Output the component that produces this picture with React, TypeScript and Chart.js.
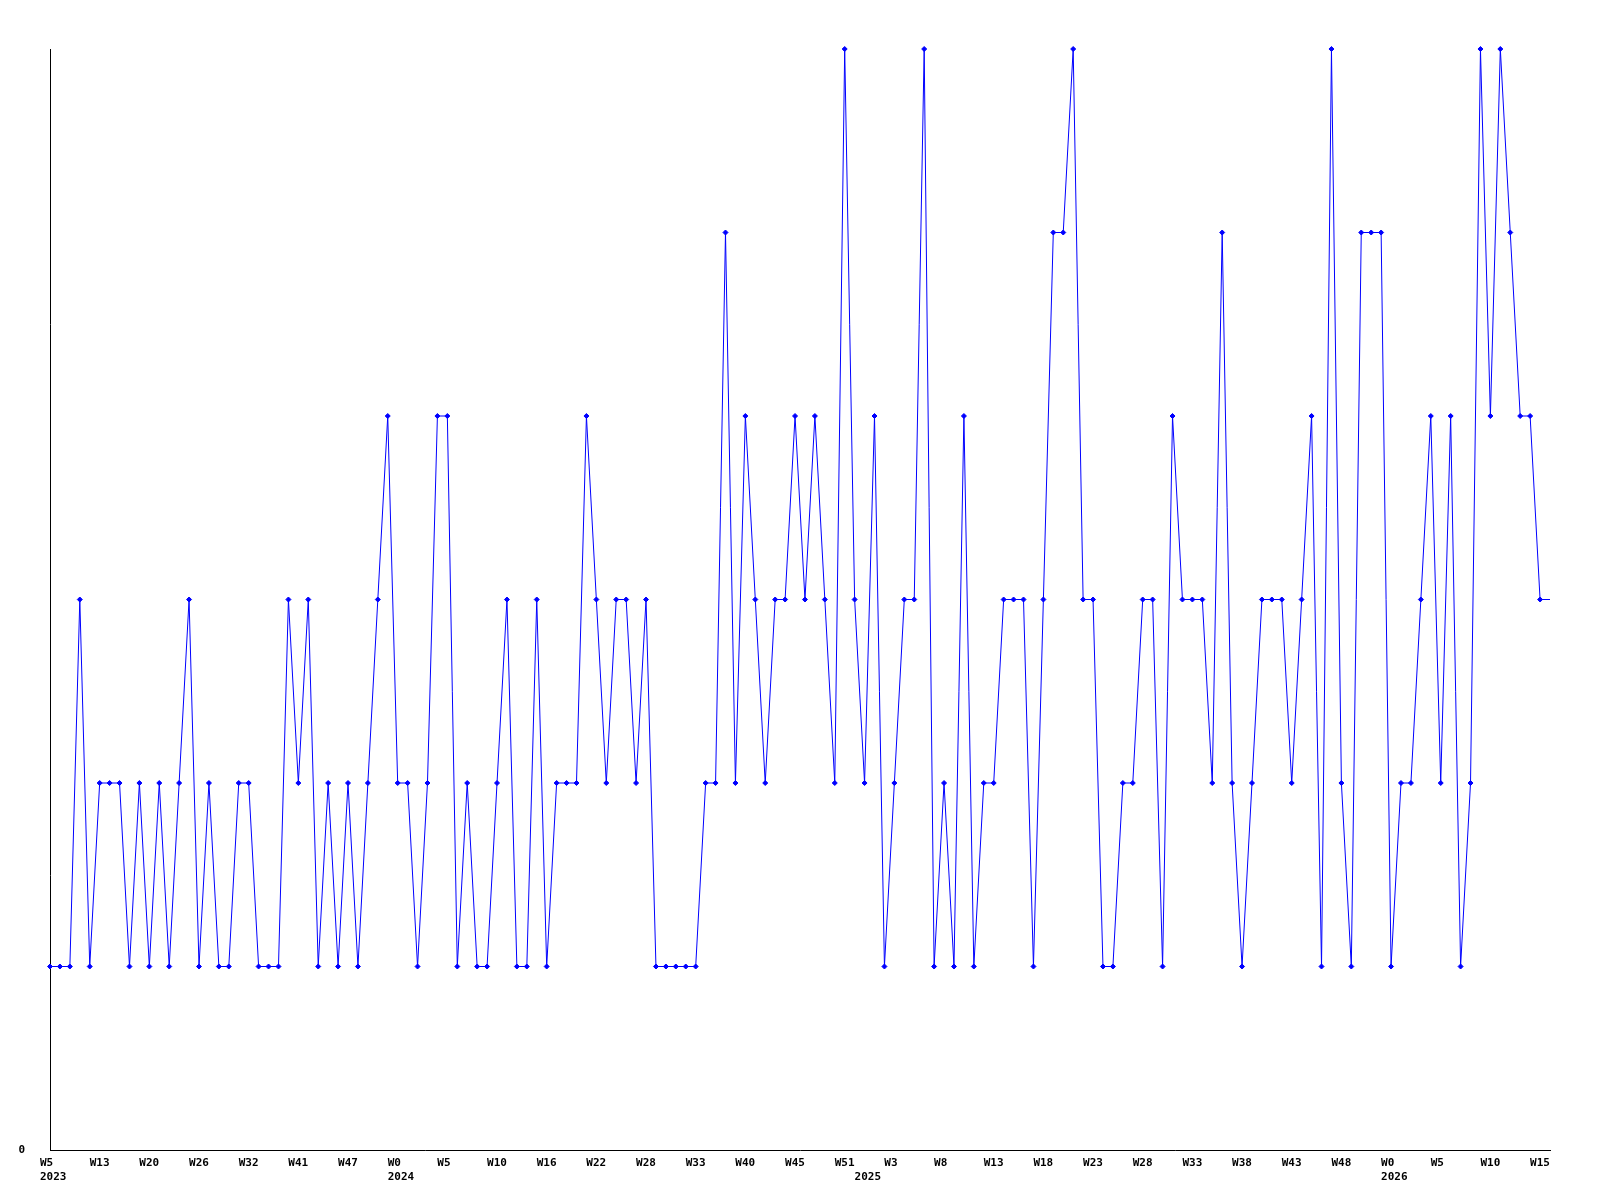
import { useEffect, useRef } from 'react';
import { Chart, registerables } from 'chart.js';

Chart.register(...registerables);

// Series values, one per sampled week (152 points)
const values = [
  1, 1, 1, 3, 1, 2, 2, 2, 1, 2, 1, 2, 1, 2, 3, 1, 2, 1, 1, 2, 2, 1, 1, 1, 3,
  2, 3, 1, 2, 1, 2, 1, 2, 3, 4, 2, 2, 1, 2, 4, 4, 1, 2, 1, 1, 2, 3, 1, 1, 3,
  1, 2, 2, 2, 4, 3, 2, 3, 3, 2, 3, 1, 1, 1, 1, 1, 2, 2, 5, 2, 4, 3, 2, 3, 3,
  4, 3, 4, 3, 2, 6, 3, 2, 4, 1, 2, 3, 3, 6, 1, 2, 1, 4, 1, 2, 2, 3, 3, 3, 1,
  3, 5, 5, 6, 3, 3, 1, 1, 2, 2, 3, 3, 1, 4, 3, 3, 3, 2, 5, 2, 1, 2, 3, 3, 3,
  2, 3, 4, 1, 6, 2, 1, 5, 5, 5, 1, 2, 2, 3, 4, 2, 4, 1, 2, 6, 4, 6, 5, 4, 4, 3,
  3,
];

// Week tick labels, shown on every 5th point
const weekTicks = [
  'W5', 'W13', 'W20', 'W26', 'W32', 'W41', 'W47', 'W0', 'W5', 'W10', 'W16',
  'W22', 'W28', 'W33', 'W40', 'W45', 'W51', 'W3', 'W8', 'W13', 'W18', 'W23',
  'W28', 'W33', 'W38', 'W43', 'W48', 'W0', 'W5', 'W10', 'W15',
];
const tickEvery = 5;

// Year labels and the point index where each year starts
const yearTicks = ['2023', '2024', '2025', '2026'];
const yearTickIndex = [0, 35, 82, 135];

const categories: (string | string[])[] = values.map((_, i) => {
  const w = i % tickEvery === 0 ? weekTicks[i / tickEvery] ?? '' : '';
  const yi = yearTickIndex.indexOf(i);
  return yi >= 0 ? [w, yearTicks[yi]] : w;
});

const FONT = { family: "'DejaVu Sans Mono', monospace", size: 11, weight: 'bold' as const, lineHeight: 14 / 11 };

export default function App() {
  const ref = useRef<HTMLCanvasElement | null>(null);

  useEffect(() => {
    if (!ref.current) return;
    const chart = new Chart(ref.current, {
      type: 'line',
      data: {
        labels: categories,
        datasets: [
          {
            data: values,
            borderColor: '#0000ff',
            backgroundColor: '#0000ff',
            borderWidth: 1,
            tension: 0,
            fill: false,
            pointStyle: 'rectRot',
            pointRadius: (ctx: any) => (ctx.dataIndex === values.length - 1 ? 0 : 2.5),
            pointBorderWidth: 1,
            pointBorderColor: '#0000ff',
            pointBackgroundColor: '#0000ff',
            clip: false as any,
          },
        ],
      },
      options: {
        animation: false,
        responsive: false,
        devicePixelRatio: 1,
        layout: { padding: { left: 0, right: 50, top: 49, bottom: 0 } },
        plugins: { legend: { display: false }, tooltip: { enabled: false }, title: { display: false } },
        events: [],
        scales: {
          x: {
            type: 'category',
            offset: false,
            grid: { display: false, drawTicks: false },
            border: { display: true, color: '#000000', width: 1 },
            ticks: {
              autoSkip: false,
              maxRotation: 0,
              minRotation: 0,
              align: 'start',
              labelOffset: -10,
              padding: 6,
              color: '#000000',
              font: FONT,
              callback: (_v: any, index: number) => {
                const l = categories[index];
                if (l === '' || l === undefined) return null;
                return l;
              },
            },
            afterFit: (scale: any) => {
              scale.height = 50;
            },
          },
          y: {
            min: 0,
            max: 6,
            grid: { display: false, drawTicks: false },
            border: { display: true, color: '#000000', width: 1 },
            ticks: {
              stepSize: 1,
              padding: 25,
              color: '#000000',
              font: FONT,
              callback: (v: any) => (v === 0 ? '0' : null),
            },
            afterFit: (scale: any) => {
              scale.width = 50;
            },
          },
        },
      },
    } as any);
    return () => chart.destroy();
  }, []);

  return (
    <div style={{ position: 'fixed', left: 0, top: 0, width: 1600, height: 1200, background: '#ffffff' }}>
      <canvas ref={ref} width={1600} height={1200} style={{ display: 'block', width: 1600, height: 1200 }} />
    </div>
  );
}
